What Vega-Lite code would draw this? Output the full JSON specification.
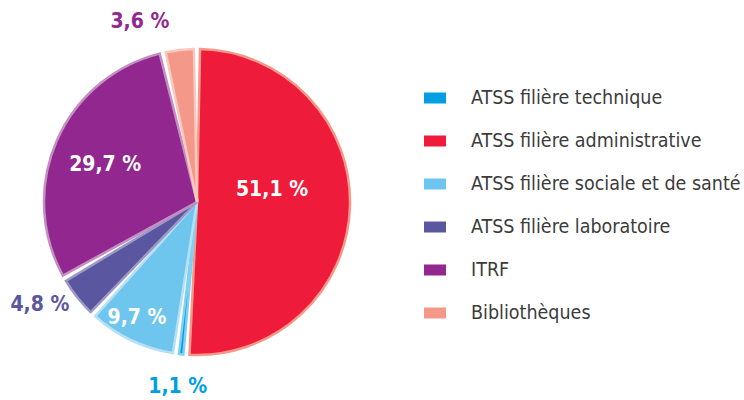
{
  "$schema": "https://vega.github.io/schema/vega-lite/v6.json",
  "width": 394,
  "height": 384,
  "padding": {"left": 0, "top": 10, "right": 0, "bottom": 0},
  "background": "white",
  "config": {"view": {"stroke": null}},
  "data": {
    "values": [
      {"cat": "ATSS filière administrative", "value": 51.1, "label": "51,1 %", "rank": 1},
      {"cat": "ATSS filière technique", "value": 1.1, "label": "1,1 %", "rank": 2},
      {"cat": "ATSS filière sociale et de santé", "value": 9.7, "label": "9,7 %", "rank": 3},
      {"cat": "ATSS filière laboratoire", "value": 4.8, "label": "4,8 %", "rank": 4},
      {"cat": "ITRF", "value": 29.7, "label": "29,7 %", "rank": 5},
      {"cat": "Bibliothèques", "value": 3.6, "label": "3,6 %", "rank": 6}
    ]
  },
  "encoding": {
    "theta": {"field": "value", "type": "quantitative", "stack": true},
    "order": {"field": "rank", "type": "quantitative"}
  },
  "layer": [
    {
      "mark": {"type": "arc", "outerRadius": 153, "padAngle": 0.04, "strokeWidth": 2.5},
      "encoding": {
        "color": {
          "field": "cat",
          "type": "nominal",
          "scale": {
            "domain": ["ATSS filière technique", "ATSS filière administrative", "ATSS filière sociale et de santé", "ATSS filière laboratoire", "ITRF", "Bibliothèques"],
            "range": ["#009FE3", "#EE1B3A", "#6EC6EE", "#5A56A0", "#92278F", "#F4998A"]
          },
          "legend": {
            "orient": "none",
            "legendX": 424,
            "legendY": 77,
            "title": null,
            "symbolType": "M-1,-0.5H1V0.5H-1Z",
            "symbolSize": 484,
            "symbolStrokeWidth": 0,
            "symbolOpacity": 1,
            "labelFont": "DejaVu Sans Condensed",
            "labelFontSize": 19.5,
            "labelColor": "#3c3c3c",
            "labelOffset": 25,
            "rowPadding": 22,
            "labelLimit": 400
          }
        },
        "stroke": {
          "field": "cat",
          "type": "nominal",
          "scale": {
            "domain": ["ATSS filière technique", "ATSS filière administrative", "ATSS filière sociale et de santé", "ATSS filière laboratoire", "ITRF", "Bibliothèques"],
            "range": ["#7FD0F3", "#F4998A", "#B5E0F5", "#9C98C8", "#C38FC1", "#F9C8BE"]
          },
          "legend": null
        }
      }
    },
    {
      "mark": {"type": "text", "radius": 76, "thetaOffset": -0.194, "font": "DejaVu Sans Condensed", "fontWeight": "bold", "fill": "white"},
      "encoding": {
        "text": {"condition": {"test": "datum.cat === 'ATSS filière administrative'", "field": "label"}, "value": ""},
        "size": {"condition": {"test": "datum.cat === 'ATSS filière administrative'", "value": 21}, "value": 0}
      }
    },
    {
      "mark": {"type": "text", "radius": 99, "thetaOffset": -0.028, "font": "DejaVu Sans Condensed", "fontWeight": "bold", "fill": "white"},
      "encoding": {
        "text": {"condition": {"test": "datum.cat === 'ITRF'", "field": "label"}, "value": ""},
        "size": {"condition": {"test": "datum.cat === 'ITRF'", "value": 21}, "value": 0}
      }
    },
    {
      "mark": {"type": "text", "radius": 131, "thetaOffset": 0.033, "font": "DejaVu Sans Condensed", "fontWeight": "bold", "fill": "white"},
      "encoding": {
        "text": {"condition": {"test": "datum.cat === 'ATSS filière sociale et de santé'", "field": "label"}, "value": ""},
        "size": {"condition": {"test": "datum.cat === 'ATSS filière sociale et de santé'", "value": 21}, "value": 0}
      }
    },
    {
      "mark": {"type": "text", "radius": 186, "font": "DejaVu Sans Condensed", "fontWeight": "bold", "fill": "#009FE3"},
      "encoding": {
        "text": {"condition": {"test": "datum.cat === 'ATSS filière technique'", "field": "label"}, "value": ""},
        "size": {"condition": {"test": "datum.cat === 'ATSS filière technique'", "value": 21}, "value": 0}
      }
    },
    {
      "mark": {"type": "text", "radius": 188, "thetaOffset": 0.091, "font": "DejaVu Sans Condensed", "fontWeight": "bold", "fill": "#5A56A0"},
      "encoding": {
        "text": {"condition": {"test": "datum.cat === 'ATSS filière laboratoire'", "field": "label"}, "value": ""},
        "size": {"condition": {"test": "datum.cat === 'ATSS filière laboratoire'", "value": 21}, "value": 0}
      }
    },
    {
      "mark": {"type": "text", "radius": 189, "thetaOffset": -0.194, "font": "DejaVu Sans Condensed", "fontWeight": "bold", "fill": "#92278F"},
      "encoding": {
        "text": {"condition": {"test": "datum.cat === 'Bibliothèques'", "field": "label"}, "value": ""},
        "size": {"condition": {"test": "datum.cat === 'Bibliothèques'", "value": 21}, "value": 0}
      }
    }
  ]
}
